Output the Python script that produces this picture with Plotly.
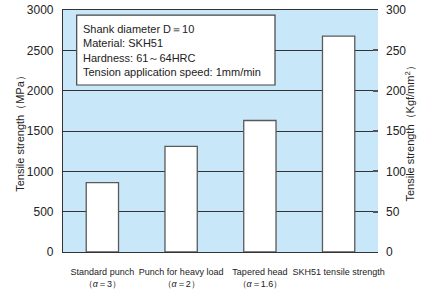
import plotly.graph_objects as go

categories = ["Standard punch<br>（<i>α</i>＝3）", "Punch for heavy load<br>（<i>α</i>＝2）",
              "Tapered head<br>（<i>α</i>＝1.6）", "SKH51 tensile strength"]
strength_mpa = [860, 1310, 1630, 2675]
left_ticks = [0, 500, 1000, 1500, 2000, 2500, 3000]
right_ticks = [0, 50, 100, 150, 200, 250, 300]
note_lines = ["Shank diameter D＝10", "Material: SKH51", "Hardness: 61～64HRC",
              "Tension application speed: 1mm/min"]
left_title = "Tensile strength（MPa）"
right_title = "Tensile strength（Kgf/mm<sup>2</sup>）"

FONT = "Liberation Sans, Arial, sans-serif"
fig = go.Figure()
fig.add_trace(go.Bar(x=categories, y=strength_mpa, width=0.41,
                     marker=dict(color="white", line=dict(color="#5a5a5a", width=1.3)),
                     showlegend=False))
# invisible trace for the right axis
fig.add_trace(go.Scatter(x=categories, y=[0] * 4, yaxis="y2", showlegend=False,
                         mode="markers", marker=dict(opacity=0), hoverinfo="skip"))

fig.update_layout(
    width=422, height=298,
    margin=dict(l=63, r=44, t=10, b=46),
    plot_bgcolor="#C8E8F9", paper_bgcolor="white",
    font=dict(family=FONT, color="#222", size=12),
    xaxis=dict(showgrid=False, showline=True, linecolor="#333", linewidth=1.2, mirror=True,
               tickfont=dict(size=9), ticks="", ticklabelstandoff=11, tickangle=0,
               automargin=False),
    yaxis=dict(range=[0, 3000], tickvals=left_ticks, showgrid=True, gridcolor="#333",
               gridwidth=1, showline=True, linecolor="#333", linewidth=1.2, zeroline=False,
               ticks="", ticklabelstandoff=6, tickfont=dict(size=12), automargin=False),
    yaxis2=dict(range=[0, 300], tickvals=right_ticks, overlaying="y", side="right",
                showgrid=False, zeroline=False, ticks="inside", ticklen=5, tickcolor="#555",
                tickwidth=2, ticklabelstandoff=7, tickfont=dict(size=12), automargin=False),
    bargap=0.59,
)

fig.add_shape(type="rect", xref="paper", yref="paper", x0=0.0435, x1=0.673, y0=0.69, y1=0.979,
              fillcolor="white", line=dict(color="#444", width=1.2), layer="above")
fig.add_annotation(xref="paper", yref="paper", x=0.058, y=0.955, xanchor="left", yanchor="top",
                   text="<br>".join(note_lines), showarrow=False, align="left",
                   font=dict(size=11, family=FONT, color="#222"))
fig.add_annotation(xref="paper", yref="paper", x=-0.137, y=0.5, textangle=-90,
                   xanchor="center", yanchor="middle",
                   text=left_title, showarrow=False, font=dict(size=11, family=FONT, color="#222"))
fig.add_annotation(xref="paper", yref="paper", x=1.10, y=0.5, textangle=-90,
                   xanchor="center", yanchor="middle",
                   text=right_title, showarrow=False, font=dict(size=11, family=FONT, color="#222"))

fig.write_html("out.html", config={"displayModeBar": False},
               post_script="document.body.style.margin='0';")
